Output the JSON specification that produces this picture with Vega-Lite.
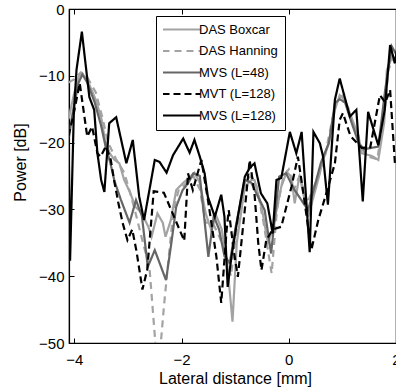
{
"$schema":"https://vega.github.io/schema/vega-lite/v6.json",
"width":327,"height":334,
"autosize":{"type":"none"},
"padding":{"left":69,"top":9,"right":0,"bottom":49},
"background":"white",
"config":{"view":{"stroke":"#000","strokeWidth":1.2},"font":"Liberation Sans"},
"data":{"values":[
{"s":"DAS Boxcar","x":-4.11,"p":-16.5},{"s":"DAS Boxcar","x":-4.0,"p":-12.5},{"s":"DAS Boxcar","x":-3.92,"p":-10.2},{"s":"DAS Boxcar","x":-3.86,"p":-9.6},{"s":"DAS Boxcar","x":-3.76,"p":-10.6},{"s":"DAS Boxcar","x":-3.6,"p":-13.6},{"s":"DAS Boxcar","x":-3.49,"p":-16.6},{"s":"DAS Boxcar","x":-3.43,"p":-19.6},{"s":"DAS Boxcar","x":-3.34,"p":-21.6},{"s":"DAS Boxcar","x":-3.25,"p":-22.6},{"s":"DAS Boxcar","x":-3.16,"p":-23.1},{"s":"DAS Boxcar","x":-3.07,"p":-25.6},{"s":"DAS Boxcar","x":-2.96,"p":-27.5},{"s":"DAS Boxcar","x":-2.86,"p":-29.6},{"s":"DAS Boxcar","x":-2.75,"p":-30.5},{"s":"DAS Boxcar","x":-2.62,"p":-32.6},{"s":"DAS Boxcar","x":-2.56,"p":-34.1},{"s":"DAS Boxcar","x":-2.45,"p":-30.6},{"s":"DAS Boxcar","x":-2.35,"p":-32},{"s":"DAS Boxcar","x":-2.3,"p":-34.1},{"s":"DAS Boxcar","x":-2.2,"p":-31.6},{"s":"DAS Boxcar","x":-2.1,"p":-27.1},{"s":"DAS Boxcar","x":-1.98,"p":-26.1},{"s":"DAS Boxcar","x":-1.86,"p":-25.3},{"s":"DAS Boxcar","x":-1.76,"p":-24.5},{"s":"DAS Boxcar","x":-1.66,"p":-26},{"s":"DAS Boxcar","x":-1.55,"p":-30.6},{"s":"DAS Boxcar","x":-1.45,"p":-33},{"s":"DAS Boxcar","x":-1.35,"p":-31},{"s":"DAS Boxcar","x":-1.25,"p":-33},{"s":"DAS Boxcar","x":-1.15,"p":-38},{"s":"DAS Boxcar","x":-1.05,"p":-46.8},{"s":"DAS Boxcar","x":-0.97,"p":-35},{"s":"DAS Boxcar","x":-0.82,"p":-26.6},{"s":"DAS Boxcar","x":-0.7,"p":-25.6},{"s":"DAS Boxcar","x":-0.64,"p":-25.6},{"s":"DAS Boxcar","x":-0.5,"p":-30},{"s":"DAS Boxcar","x":-0.39,"p":-35},{"s":"DAS Boxcar","x":-0.3,"p":-33},{"s":"DAS Boxcar","x":-0.14,"p":-26.6},{"s":"DAS Boxcar","x":-0.04,"p":-24.4},{"s":"DAS Boxcar","x":0.05,"p":-25.1},{"s":"DAS Boxcar","x":0.11,"p":-29.1},{"s":"DAS Boxcar","x":0.2,"p":-24.9},{"s":"DAS Boxcar","x":0.36,"p":-31.1},{"s":"DAS Boxcar","x":0.58,"p":-24.6},{"s":"DAS Boxcar","x":0.62,"p":-23.1},{"s":"DAS Boxcar","x":0.75,"p":-20},{"s":"DAS Boxcar","x":0.86,"p":-15.1},{"s":"DAS Boxcar","x":0.95,"p":-12.9},{"s":"DAS Boxcar","x":1.04,"p":-13.6},{"s":"DAS Boxcar","x":1.14,"p":-15.6},{"s":"DAS Boxcar","x":1.3,"p":-19},{"s":"DAS Boxcar","x":1.36,"p":-21.6},{"s":"DAS Boxcar","x":1.55,"p":-22},{"s":"DAS Boxcar","x":1.67,"p":-22.6},{"s":"DAS Boxcar","x":1.78,"p":-17},{"s":"DAS Boxcar","x":1.83,"p":-9.1},{"s":"DAS Boxcar","x":1.93,"p":-7.1},{"s":"DAS Boxcar","x":2.02,"p":-8},
{"s":"DAS Hanning","x":-4.11,"p":-11},{"s":"DAS Hanning","x":-4.0,"p":-10.5},{"s":"DAS Hanning","x":-3.88,"p":-9.5},{"s":"DAS Hanning","x":-3.76,"p":-10.2},{"s":"DAS Hanning","x":-3.6,"p":-12.5},{"s":"DAS Hanning","x":-3.47,"p":-16.5},{"s":"DAS Hanning","x":-3.37,"p":-20},{"s":"DAS Hanning","x":-3.22,"p":-22.5},{"s":"DAS Hanning","x":-3.07,"p":-24.5},{"s":"DAS Hanning","x":-2.96,"p":-27.5},{"s":"DAS Hanning","x":-2.86,"p":-30.5},{"s":"DAS Hanning","x":-2.72,"p":-35},{"s":"DAS Hanning","x":-2.6,"p":-38.6},{"s":"DAS Hanning","x":-2.44,"p":-55},{"s":"DAS Hanning","x":-2.33,"p":-44.6},{"s":"DAS Hanning","x":-2.25,"p":-38},{"s":"DAS Hanning","x":-2.15,"p":-30},{"s":"DAS Hanning","x":-2.05,"p":-27},{"s":"DAS Hanning","x":-1.9,"p":-26},{"s":"DAS Hanning","x":-1.78,"p":-25},{"s":"DAS Hanning","x":-1.66,"p":-27},{"s":"DAS Hanning","x":-1.55,"p":-32},{"s":"DAS Hanning","x":-1.42,"p":-32},{"s":"DAS Hanning","x":-1.3,"p":-34},{"s":"DAS Hanning","x":-1.2,"p":-36},{"s":"DAS Hanning","x":-1.08,"p":-40},{"s":"DAS Hanning","x":-0.97,"p":-33},{"s":"DAS Hanning","x":-0.82,"p":-26},{"s":"DAS Hanning","x":-0.7,"p":-25},{"s":"DAS Hanning","x":-0.6,"p":-26.5},{"s":"DAS Hanning","x":-0.47,"p":-32},{"s":"DAS Hanning","x":-0.32,"p":-39.6},{"s":"DAS Hanning","x":-0.22,"p":-30},{"s":"DAS Hanning","x":-0.1,"p":-25},{"s":"DAS Hanning","x":0.0,"p":-24},{"s":"DAS Hanning","x":0.1,"p":-27},{"s":"DAS Hanning","x":0.2,"p":-25},{"s":"DAS Hanning","x":0.35,"p":-29},{"s":"DAS Hanning","x":0.5,"p":-26},{"s":"DAS Hanning","x":0.65,"p":-23},{"s":"DAS Hanning","x":0.8,"p":-17},{"s":"DAS Hanning","x":0.9,"p":-13.5},{"s":"DAS Hanning","x":1.0,"p":-13},{"s":"DAS Hanning","x":1.12,"p":-15},{"s":"DAS Hanning","x":1.3,"p":-20},{"s":"DAS Hanning","x":1.45,"p":-22},{"s":"DAS Hanning","x":1.65,"p":-22.5},{"s":"DAS Hanning","x":1.78,"p":-16},{"s":"DAS Hanning","x":1.86,"p":-9},{"s":"DAS Hanning","x":1.95,"p":-7.5},{"s":"DAS Hanning","x":2.02,"p":-9},
{"s":"MVS (L=48)","x":-4.11,"p":-19.6},{"s":"MVS (L=48)","x":-4.02,"p":-15},{"s":"MVS (L=48)","x":-3.92,"p":-11},{"s":"MVS (L=48)","x":-3.85,"p":-9.8},{"s":"MVS (L=48)","x":-3.76,"p":-11},{"s":"MVS (L=48)","x":-3.62,"p":-14},{"s":"MVS (L=48)","x":-3.5,"p":-17.5},{"s":"MVS (L=48)","x":-3.42,"p":-20.5},{"s":"MVS (L=48)","x":-3.33,"p":-23},{"s":"MVS (L=48)","x":-3.25,"p":-25.8},{"s":"MVS (L=48)","x":-3.13,"p":-28.6},{"s":"MVS (L=48)","x":-2.97,"p":-32},{"s":"MVS (L=48)","x":-2.85,"p":-28.6},{"s":"MVS (L=48)","x":-2.74,"p":-31},{"s":"MVS (L=48)","x":-2.63,"p":-38.6},{"s":"MVS (L=48)","x":-2.5,"p":-36.1},{"s":"MVS (L=48)","x":-2.29,"p":-40.6},{"s":"MVS (L=48)","x":-2.19,"p":-35},{"s":"MVS (L=48)","x":-2.1,"p":-29.6},{"s":"MVS (L=48)","x":-1.98,"p":-27.1},{"s":"MVS (L=48)","x":-1.88,"p":-26.1},{"s":"MVS (L=48)","x":-1.78,"p":-24.6},{"s":"MVS (L=48)","x":-1.66,"p":-25},{"s":"MVS (L=48)","x":-1.5,"p":-37.1},{"s":"MVS (L=48)","x":-1.4,"p":-31},{"s":"MVS (L=48)","x":-1.3,"p":-33},{"s":"MVS (L=48)","x":-1.2,"p":-37},{"s":"MVS (L=48)","x":-1.1,"p":-38},{"s":"MVS (L=48)","x":-1.0,"p":-33},{"s":"MVS (L=48)","x":-0.82,"p":-25.6},{"s":"MVS (L=48)","x":-0.7,"p":-26},{"s":"MVS (L=48)","x":-0.58,"p":-28},{"s":"MVS (L=48)","x":-0.45,"p":-30.1},{"s":"MVS (L=48)","x":-0.33,"p":-36.6},{"s":"MVS (L=48)","x":-0.18,"p":-25.1},{"s":"MVS (L=48)","x":-0.05,"p":-24.6},{"s":"MVS (L=48)","x":0.1,"p":-27},{"s":"MVS (L=48)","x":0.36,"p":-30.1},{"s":"MVS (L=48)","x":0.5,"p":-26},{"s":"MVS (L=48)","x":0.6,"p":-23},{"s":"MVS (L=48)","x":0.75,"p":-20},{"s":"MVS (L=48)","x":0.86,"p":-14.1},{"s":"MVS (L=48)","x":0.95,"p":-13.5},{"s":"MVS (L=48)","x":1.05,"p":-14},{"s":"MVS (L=48)","x":1.15,"p":-16.5},{"s":"MVS (L=48)","x":1.3,"p":-20},{"s":"MVS (L=48)","x":1.4,"p":-21},{"s":"MVS (L=48)","x":1.67,"p":-20.6},{"s":"MVS (L=48)","x":1.8,"p":-12},{"s":"MVS (L=48)","x":1.92,"p":-5.6},{"s":"MVS (L=48)","x":2.02,"p":-7},
{"s":"MVT (L=128)","x":-4.11,"p":-19},{"s":"MVT (L=128)","x":-4.02,"p":-16},{"s":"MVT (L=128)","x":-3.9,"p":-11.1},{"s":"MVT (L=128)","x":-3.83,"p":-15.1},{"s":"MVT (L=128)","x":-3.76,"p":-19.1},{"s":"MVT (L=128)","x":-3.67,"p":-17.6},{"s":"MVT (L=128)","x":-3.57,"p":-21.6},{"s":"MVT (L=128)","x":-3.51,"p":-22.1},{"s":"MVT (L=128)","x":-3.41,"p":-20.5},{"s":"MVT (L=128)","x":-3.32,"p":-22.6},{"s":"MVT (L=128)","x":-3.26,"p":-25.6},{"s":"MVT (L=128)","x":-3.18,"p":-29},{"s":"MVT (L=128)","x":-3.1,"p":-32},{"s":"MVT (L=128)","x":-3.01,"p":-34.6},{"s":"MVT (L=128)","x":-2.92,"p":-33},{"s":"MVT (L=128)","x":-2.84,"p":-36.3},{"s":"MVT (L=128)","x":-2.73,"p":-42},{"s":"MVT (L=128)","x":-2.64,"p":-39},{"s":"MVT (L=128)","x":-2.52,"p":-27.3},{"s":"MVT (L=128)","x":-2.33,"p":-27.5},{"s":"MVT (L=128)","x":-2.13,"p":-31.3},{"s":"MVT (L=128)","x":-1.95,"p":-34.7},{"s":"MVT (L=128)","x":-1.88,"p":-24.6},{"s":"MVT (L=128)","x":-1.79,"p":-27.1},{"s":"MVT (L=128)","x":-1.63,"p":-22.6},{"s":"MVT (L=128)","x":-1.5,"p":-29},{"s":"MVT (L=128)","x":-1.35,"p":-37.1},{"s":"MVT (L=128)","x":-1.26,"p":-44},{"s":"MVT (L=128)","x":-1.16,"p":-33.1},{"s":"MVT (L=128)","x":-1.12,"p":-30.1},{"s":"MVT (L=128)","x":-1.03,"p":-36},{"s":"MVT (L=128)","x":-0.95,"p":-40.1},{"s":"MVT (L=128)","x":-0.82,"p":-30},{"s":"MVT (L=128)","x":-0.73,"p":-22.6},{"s":"MVT (L=128)","x":-0.64,"p":-27.6},{"s":"MVT (L=128)","x":-0.57,"p":-35},{"s":"MVT (L=128)","x":-0.51,"p":-39.1},{"s":"MVT (L=128)","x":-0.42,"p":-34.6},{"s":"MVT (L=128)","x":-0.3,"p":-33},{"s":"MVT (L=128)","x":-0.14,"p":-32.6},{"s":"MVT (L=128)","x":0.05,"p":-26.6},{"s":"MVT (L=128)","x":0.17,"p":-22.1},{"s":"MVT (L=128)","x":0.28,"p":-28},{"s":"MVT (L=128)","x":0.42,"p":-36.1},{"s":"MVT (L=128)","x":0.55,"p":-31.6},{"s":"MVT (L=128)","x":0.7,"p":-27.6},{"s":"MVT (L=128)","x":0.86,"p":-23.1},{"s":"MVT (L=128)","x":0.95,"p":-16.6},{"s":"MVT (L=128)","x":1.01,"p":-15.6},{"s":"MVT (L=128)","x":1.15,"p":-19},{"s":"MVT (L=128)","x":1.36,"p":-20.8},{"s":"MVT (L=128)","x":1.52,"p":-20.7},{"s":"MVT (L=128)","x":1.7,"p":-12.9},{"s":"MVT (L=128)","x":1.8,"p":-14},{"s":"MVT (L=128)","x":1.89,"p":-12.1},{"s":"MVT (L=128)","x":1.98,"p":-23.1},
{"s":"MVS (L=128)","x":-4.11,"p":-17.4},{"s":"MVS (L=128)","x":-4.08,"p":-37.7},{"s":"MVS (L=128)","x":-4.01,"p":-15.6},{"s":"MVS (L=128)","x":-3.96,"p":-9.1},{"s":"MVS (L=128)","x":-3.86,"p":-3.4},{"s":"MVS (L=128)","x":-3.72,"p":-13.2},{"s":"MVS (L=128)","x":-3.63,"p":-15.1},{"s":"MVS (L=128)","x":-3.57,"p":-21.6},{"s":"MVS (L=128)","x":-3.5,"p":-25.6},{"s":"MVS (L=128)","x":-3.44,"p":-27.4},{"s":"MVS (L=128)","x":-3.35,"p":-17.1},{"s":"MVS (L=128)","x":-3.22,"p":-16.2},{"s":"MVS (L=128)","x":-3.03,"p":-23.1},{"s":"MVS (L=128)","x":-2.91,"p":-19.6},{"s":"MVS (L=128)","x":-2.79,"p":-28.1},{"s":"MVS (L=128)","x":-2.7,"p":-31.6},{"s":"MVS (L=128)","x":-2.5,"p":-22.6},{"s":"MVS (L=128)","x":-2.41,"p":-22.9},{"s":"MVS (L=128)","x":-2.28,"p":-24.5},{"s":"MVS (L=128)","x":-2.16,"p":-21.9},{"s":"MVS (L=128)","x":-1.97,"p":-19.4},{"s":"MVS (L=128)","x":-1.85,"p":-21.5},{"s":"MVS (L=128)","x":-1.76,"p":-19.6},{"s":"MVS (L=128)","x":-1.66,"p":-22.1},{"s":"MVS (L=128)","x":-1.57,"p":-24.6},{"s":"MVS (L=128)","x":-1.51,"p":-28.1},{"s":"MVS (L=128)","x":-1.38,"p":-31.1},{"s":"MVS (L=128)","x":-1.26,"p":-27.8},{"s":"MVS (L=128)","x":-1.2,"p":-31.1},{"s":"MVS (L=128)","x":-1.14,"p":-41.6},{"s":"MVS (L=128)","x":-1.07,"p":-37.1},{"s":"MVS (L=128)","x":-0.95,"p":-31.1},{"s":"MVS (L=128)","x":-0.82,"p":-25.1},{"s":"MVS (L=128)","x":-0.73,"p":-23.8},{"s":"MVS (L=128)","x":-0.64,"p":-23.1},{"s":"MVS (L=128)","x":-0.52,"p":-27.6},{"s":"MVS (L=128)","x":-0.4,"p":-29.1},{"s":"MVS (L=128)","x":-0.3,"p":-33.6},{"s":"MVS (L=128)","x":-0.23,"p":-25.6},{"s":"MVS (L=128)","x":-0.14,"p":-25.3},{"s":"MVS (L=128)","x":0.02,"p":-18.4},{"s":"MVS (L=128)","x":0.14,"p":-21.6},{"s":"MVS (L=128)","x":0.24,"p":-18.4},{"s":"MVS (L=128)","x":0.39,"p":-36.4},{"s":"MVS (L=128)","x":0.46,"p":-18.4},{"s":"MVS (L=128)","x":0.58,"p":-20.1},{"s":"MVS (L=128)","x":0.64,"p":-22.1},{"s":"MVS (L=128)","x":0.73,"p":-29.3},{"s":"MVS (L=128)","x":0.86,"p":-13.6},{"s":"MVS (L=128)","x":0.95,"p":-10.4},{"s":"MVS (L=128)","x":1.04,"p":-13.1},{"s":"MVS (L=128)","x":1.14,"p":-16.1},{"s":"MVS (L=128)","x":1.26,"p":-15.1},{"s":"MVS (L=128)","x":1.38,"p":-28.8},{"s":"MVS (L=128)","x":1.48,"p":-15.4},{"s":"MVS (L=128)","x":1.67,"p":-20.4},{"s":"MVS (L=128)","x":1.79,"p":-15.1},{"s":"MVS (L=128)","x":1.89,"p":-5.4},{"s":"MVS (L=128)","x":1.98,"p":-8.1},{"s":"MVS (L=128)","x":2.02,"p":-6}
]},
"layer":[
{"mark":{"type":"line","strokeWidth":2.2,"clip":true},
 "encoding":{
  "x":{"field":"x","type":"quantitative","scale":{"domain":[-4.1,2.0],"nice":false,"zero":false},
       "axis":{"values":[-4,-2,0,2],"title":"Lateral distance [mm]","grid":false,"tickSize":-5,"labelPadding":14,
               "labelFontSize":15,"labelColor":"#000","labelFont":"Liberation Sans","labelFlush":false,
               "domainColor":"#000","domainWidth":1.2,"tickColor":"#000","tickWidth":1,
               "titleFontSize":16,"titleFontWeight":"normal","titleColor":"#000","titleFont":"Liberation Sans",
               "titleX":166,"titleY":40,"titleBaseline":"alphabetic","titleAlign":"center"}},
  "y":{"field":"p","type":"quantitative","scale":{"domain":[-50,0],"nice":false,"zero":false},
       "axis":{"values":[-50,-40,-30,-20,-10,0],"title":"Power [dB]","grid":false,"tickSize":-5,"labelPadding":10,
               "labelFontSize":15,"labelColor":"#000","labelFont":"Liberation Sans","labelFlush":false,
               "domainColor":"#000","domainWidth":1.2,"tickColor":"#000","tickWidth":1,
               "titleFontSize":16,"titleFontWeight":"normal","titleColor":"#000","titleFont":"Liberation Sans",
               "titleX":-44,"titleY":153,"titleAngle":-90,"titleBaseline":"alphabetic","titleAlign":"center"}},
  "color":{"field":"s","type":"nominal","title":null,
    "scale":{"domain":["DAS Boxcar","DAS Hanning","MVS (L=48)","MVT (L=128)","MVS (L=128)"],"range":["#a3a3a3","#a3a3a3","#666666","#000000","#000000"]},
    "legend":{"orient":"none","legendX":87,"legendY":7,"strokeColor":"#000","fillColor":"#fff","padding":7,"rowPadding":7.5,
      "labelFontSize":13,"labelFont":"Liberation Sans","labelColor":"#000","symbolType":"stroke","symbolSize":1444,"clipHeight":13,
      "symbolStrokeWidth":2.2,"labelOffset":-3,"symbolOffset":-2,"cornerRadius":0}},
  "strokeDash":{"field":"s","type":"nominal","title":null,
    "scale":{"domain":["DAS Boxcar","DAS Hanning","MVS (L=48)","MVT (L=128)","MVS (L=128)"],"range":[[1,0],[7,5],[1,0],[7,4],[1,0]]},
    "legend":{"orient":"none","legendX":87,"legendY":7,"strokeColor":"#000","fillColor":"#fff","padding":7,"rowPadding":7.5,
      "labelFontSize":13,"labelFont":"Liberation Sans","labelColor":"#000","symbolType":"stroke","symbolSize":1444,"clipHeight":13,
      "symbolStrokeWidth":2.2,"labelOffset":-3,"symbolOffset":-2,"cornerRadius":0}}
 }},
{"mark":{"type":"point","opacity":0},
 "encoding":{
  "x":{"field":"x","type":"quantitative",
       "axis":{"orient":"top","values":[-4,-2,0,2],"labels":false,"title":null,"domain":false,"grid":false,"tickSize":-5,"tickColor":"#000","tickWidth":1}}
 }}
],
"resolve":{"axis":{"x":"independent"}}
}
